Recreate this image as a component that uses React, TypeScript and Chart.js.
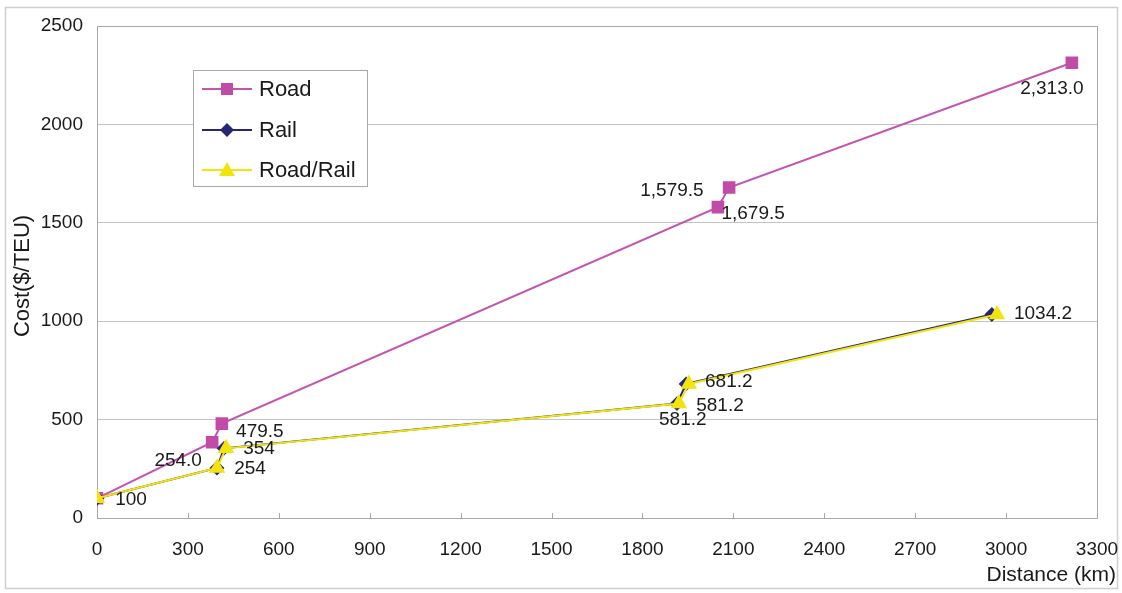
import React, { useEffect, useRef } from "react";
import { Chart, registerables } from "chart.js";

Chart.register(...registerables);

// ---- data ----
const seriesNames = ["Road", "Rail", "Road/Rail"];
const roadDist = [0, 380, 412, 2049, 2086, 3217];
const roadCost = [100, 385, 479.5, 1579.5, 1679.5, 2313.0];
const railDist = [0, 396, 419, 1914, 1944, 2953];
const railCost = [100, 254, 354, 581.2, 681.2, 1034.2];
const roadRailDist = [0, 396, 426, 1920, 1953, 2970];
const roadRailCost = [100, 254, 354, 581.2, 681.2, 1034.2];
const roadLabels = ["", "254.0", "479.5", "1,579.5", "1,679.5", "2,313.0"];
const railLabels = ["", "", "", "581.2", "", ""];
const roadRailLabels = ["100", "254", "354", "581.2", "681.2", "1034.2"];
const xTitle = "Distance (km)";
const yTitle = "Cost($/TEU)";

// ---- styles ----
const FONT = "'Liberation Sans', Arial, sans-serif";
const TEXT = "#1a1a1a";
const ROAD_C = "#c255b0";
const RAIL_C = "#262678";
const YEL_C = "#f2e40c";
// label offsets (px) relative to each point: [dx, dy]
const roadOff = [[0, 0], [-34, 19], [38, 8], [-46, -16], [24, 26], [-20, 26]];
const railOff = [[0, 0], [0, 0], [0, 0], [43, 2], [0, 0], [0, 0]];
const roadRailOff = [[34, 1], [33, 1], [33, 0], [4, 16], [40, -2], [46, -1]];

const toPts = (xs: number[], ys: number[]) => xs.map((x, i) => ({ x, y: ys[i] }));

const framePlugin = {
  id: "frame",
  beforeDraw(chart: any) {
    const ctx = chart.ctx;
    ctx.save();
    ctx.fillStyle = "#ffffff";
    ctx.fillRect(0, 0, chart.width, chart.height);
    ctx.strokeStyle = "#cfcfcf";
    ctx.lineWidth = 1.5;
    ctx.strokeRect(5.5, 7.5, 1112, 581);
    ctx.restore();
  },
  beforeDatasetsDraw(chart: any) {
    const ctx = chart.ctx;
    const a = chart.chartArea;
    const xs = chart.scales.x;
    ctx.save();
    ctx.strokeStyle = "#a8a8a8";
    ctx.lineWidth = 1;
    ctx.strokeRect(Math.round(a.left) + 0.5, Math.round(a.top) + 0.5, Math.round(a.right - a.left), Math.round(a.bottom - a.top));
    ctx.beginPath();
    xs.ticks.forEach((t: any) => {
      const px = Math.round(xs.getPixelForValue(t.value)) + 0.5;
      ctx.moveTo(px, a.bottom);
      ctx.lineTo(px, a.bottom - 5);
    });
    ctx.stroke();
    ctx.restore();
  },
  afterDatasetsDraw(chart: any) {
    const ctx = chart.ctx;
    const sets = [
      { labels: roadLabels, off: roadOff },
      { labels: railLabels, off: railOff },
      { labels: roadRailLabels, off: roadRailOff },
    ];
    ctx.save();
    ctx.font = `19px ${FONT}`;
    ctx.fillStyle = TEXT;
    ctx.textAlign = "center";
    ctx.textBaseline = "middle";
    sets.forEach((s, di) => {
      const meta = chart.getDatasetMeta(di);
      meta.data.forEach((el: any, i: number) => {
        const txt = s.labels[i];
        if (!txt) return;
        ctx.fillText(txt, el.x + s.off[i][0], el.y + s.off[i][1]);
      });
    });
    ctx.restore();
  },
  afterDraw(chart: any) {
    const ctx = chart.ctx;
    ctx.save();
    // legend
    ctx.fillStyle = "#ffffff";
    ctx.fillRect(193.5, 70.5, 174, 116);
    ctx.strokeStyle = "#a8a8a8";
    ctx.lineWidth = 1;
    ctx.strokeRect(193.5, 70.5, 174, 116);
    const rows = [89, 130, 170];
    chart.data.datasets.forEach((ds: any, i: number) => {
      const y = rows[i];
      ctx.strokeStyle = ds.borderColor;
      ctx.lineWidth = 2;
      ctx.beginPath();
      ctx.moveTo(202, y);
      ctx.lineTo(252, y);
      ctx.stroke();
      ctx.fillStyle = ds.pointBackgroundColor;
      ctx.beginPath();
      if (i === 0) {
        ctx.rect(221, y - 6, 12, 12);
      } else if (i === 1) {
        ctx.moveTo(227, y - 7);
        ctx.lineTo(234, y);
        ctx.lineTo(227, y + 7);
        ctx.lineTo(220, y);
        ctx.closePath();
      } else {
        ctx.moveTo(227, y - 8);
        ctx.lineTo(235, y + 6);
        ctx.lineTo(219, y + 6);
        ctx.closePath();
      }
      ctx.fill();
      ctx.fillStyle = TEXT;
      ctx.font = `22px ${FONT}`;
      ctx.textAlign = "left";
      ctx.textBaseline = "middle";
      ctx.fillText(ds.label, 259, y + 1);
    });
    // axis titles
    ctx.fillStyle = TEXT;
    ctx.font = `21px ${FONT}`;
    ctx.textAlign = "right";
    ctx.textBaseline = "middle";
    ctx.fillText(xTitle, 1116, 575);
    ctx.translate(23, 276);
    ctx.rotate(-Math.PI / 2);
    ctx.textAlign = "center";
    ctx.font = `22px ${FONT}`;
    ctx.fillText(yTitle, 0, 0);
    ctx.restore();
  },
};

export default function App() {
  const ref = useRef<HTMLCanvasElement>(null);
  useEffect(() => {
    if (!ref.current) return;
    const chart = new Chart(ref.current, {
      type: "line",
      data: {
        datasets: [
          {
            label: seriesNames[0],
            data: toPts(roadDist, roadCost),
            borderColor: ROAD_C,
            backgroundColor: ROAD_C,
            pointBackgroundColor: "#c04ca8",
            pointBorderColor: "#c04ca8",
            pointStyle: "rect",
            pointRadius: 7.5,
            borderWidth: 2,
            order: 3,
          },
          {
            label: seriesNames[1],
            data: toPts(railDist, railCost),
            borderColor: RAIL_C,
            backgroundColor: RAIL_C,
            pointBackgroundColor: RAIL_C,
            pointBorderColor: RAIL_C,
            pointStyle: "rectRot",
            pointRadius: 6,
            borderWidth: 2,
            order: 2,
          },
          {
            label: seriesNames[2],
            data: toPts(roadRailDist, roadRailCost),
            borderColor: YEL_C,
            backgroundColor: YEL_C,
            pointBackgroundColor: YEL_C,
            pointBorderColor: YEL_C,
            pointStyle: "triangle",
            pointRadius: 7.5,
            borderWidth: 2,
            order: 1,
          },
        ],
      },
      options: {
        animation: false,
        responsive: true,
        maintainAspectRatio: false,
        layout: { padding: { left: 0, top: 26, right: 0, bottom: 0 } },
        plugins: { legend: { display: false }, tooltip: { enabled: false } },
        scales: {
          x: {
            type: "linear",
            min: 0,
            max: 3300,
            grid: { display: false },
            border: { display: false },
            ticks: {
              stepSize: 300,
              padding: 12,
              color: TEXT,
              font: { family: FONT, size: 19 },
              callback: (v: any) => String(v),
            },
            afterFit: (s: any) => {
              s.height = 75;
              s.paddingLeft = 0;
              s.paddingRight = 25;
            },
          },
          y: {
            min: 0,
            max: 2500,
            grid: { color: "#c4c4c4", drawTicks: false },
            border: { display: false },
            ticks: {
              stepSize: 500,
              padding: 14,
              color: TEXT,
              font: { family: FONT, size: 19 },
              callback: (v: any) => String(v),
            },
            afterFit: (s: any) => {
              s.width = 97;
            },
          },
        },
      },
      plugins: [framePlugin],
    } as any);
    return () => chart.destroy();
  }, []);
  return (
    <div style={{ position: "absolute", left: 0, top: 0, width: 1122, height: 593 }}>
      <canvas ref={ref} />
    </div>
  );
}
